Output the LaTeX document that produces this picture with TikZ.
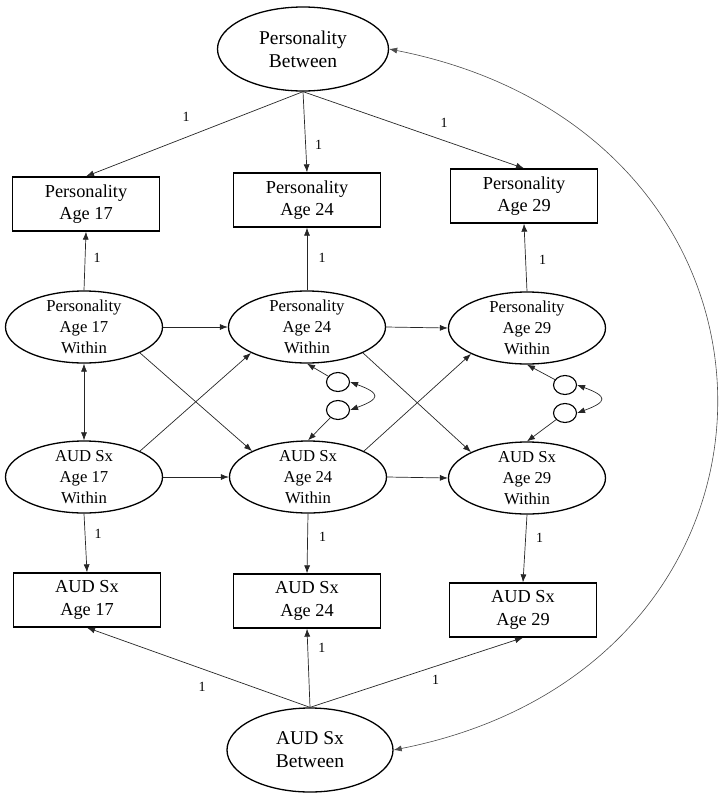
\documentclass[tikz,border=0pt]{standalone}
\usepackage{fontspec}
\setmainfont{Liberation Serif}
\usepackage{tikz}
\usetikzlibrary{positioning,shapes.geometric,arrows.meta}

\tikzset{
  latent/.style={draw,ellipse,line width=1.3pt,inner sep=0pt,minimum width=171pt,minimum height=84pt,align=center,font=\fontsize{19.5}{23}\selectfont},
  within/.style={draw,ellipse,line width=1.3pt,inner sep=0pt,minimum width=157pt,minimum height=72pt},
  wtext/.style={align=center,inner sep=0pt,font=\fontsize{16.7}{21}\selectfont},
  obs/.style={draw,rectangle,line width=1.3pt,inner sep=0pt,minimum width=147pt,minimum height=54pt,align=center,font=\fontsize{18.3}{22.5}\selectfont},
  resid/.style={draw,ellipse,line width=1.1pt,inner sep=0pt,minimum width=23pt,minimum height=19pt},
  reg/.style={->,line width=0.7pt,draw=black!85},
  cov/.style={<->,line width=0.7pt,draw=black!85},
  one/.style={inner sep=0pt,font=\fontsize{14}{16}\selectfont}
}

\begin{document}
\begin{tikzpicture}[x=1pt,y=-1pt,>={Latex[length=8pt,width=6pt]}]
\useasboundingbox (0,0) rectangle (724,801);

\node[latent] (pb) at (303,49) {Personality\\Between};
\node[latent,minimum width=166pt] (ab) at (310,750) {AUD Sx\\Between};

\node[obs] (p17) at (86,204) {Personality\\Age 17};
\node[obs] (p24) at (307,200) {Personality\\Age 24};
\node[obs] (p29) at (524,196) {Personality\\Age 29};

\node[obs] (a17) at (87,600) {AUD Sx\\Age 17};
\node[obs] (a24) at (307,601) {AUD Sx\\Age 24};
\node[obs] (a29) at (523,610) {AUD Sx\\Age 29};

\node[within] (p17w) at (84,327) {};
\node[within] (p24w) at (307,327) {};
\node[within] (p29w) at (527,328) {};
\node[within] (a17w) at (84,477) {};
\node[within] (a24w) at (308,477) {};
\node[within] (a29w) at (527,478) {};
\node[wtext] (p17wt) at (p17w) {Personality\\Age 17\\Within};
\node[wtext] (p24wt) at (p24w) {Personality\\Age 24\\Within};
\node[wtext] (p29wt) at (p29w) {Personality\\Age 29\\Within};
\node[wtext] (a17wt) at (a17w) {AUD Sx\\Age 17\\Within};
\node[wtext] (a24wt) at (a24w) {AUD Sx\\Age 24\\Within};
\node[wtext] (a29wt) at (a29w) {AUD Sx\\Age 29\\Within};

\node[resid] (e24p) at (338,382) {};
\node[resid] (e24a) at (338,410) {};
\node[resid] (e29p) at (565,385) {};
\node[resid] (e29a) at (565,413) {};

\draw[reg] (pb.south) -- node[one,pos=0.52,xshift=-4pt,yshift=19pt] (lpb17) {1} (p17.north);
\draw[reg] (pb.south) -- node[one,pos=0.66,xshift=13pt] (lpb24) {1} (p24.north);
\draw[reg] (pb.south) -- node[one,pos=0.62,xshift=4pt,yshift=16pt] (lpb29) {1} (p29.north);

\draw[reg] (p17w.north) -- node[one,pos=0.55,xshift=12pt] (lp17) {1} (p17.south);
\draw[reg] (p24w.north) -- node[one,pos=0.52,xshift=15pt] (lp24) {1} (p24.south);
\draw[reg] (p29w.north) -- node[one,pos=0.46,xshift=17pt] (lp29) {1} (p29.south);

\draw[reg] (a17w.south) -- node[one,pos=0.35,xshift=13pt] (la17) {1} (a17.north);
\draw[reg] (a24w.south) -- node[one,pos=0.39,xshift=15pt] (la24) {1} (a24.north);
\draw[reg] (a29w.south) -- node[one,pos=0.34,xshift=14pt] (la29) {1} (a29.north);

\draw[reg] (ab.north) -- node[one,pos=0.47,xshift=-3pt,yshift=-17pt] (lab17) {1} (a17.south);
\draw[reg] (ab.north) -- node[one,pos=0.75,xshift=14pt] (lab24) {1} (a24.south);
\draw[reg] (ab.north) -- node[one,pos=0.58,xshift=2pt,yshift=-13pt] (lab29) {1} (a29.south);

\draw[reg] (p17w.east) -- (p24w.west);
\draw[reg] (p24w.east) -- (p29w.west);
\draw[reg] (a17w.east) -- (a24w.west);
\draw[reg] (a24w.east) -- (a29w.west);

\draw[reg] (p17w.south east) -- (a24w.north west);
\draw[reg] (a17w.north east) -- (p24w.south west);
\draw[reg] (p24w.south east) -- (a29w.north west);
\draw[reg] (a24w.north east) -- (p29w.south west);

\draw[cov] (p17w.south) -- (a17w.north);

\draw[reg] (e24p) -- (p24w.south);
\draw[reg] (e24a) -- (a24w.north);
\draw[cov] (e24p.east) to[out=-20,in=20,looseness=3] (e24a.east);
\draw[reg] (e29p) -- (p29w.south);
\draw[reg] (e29a) -- (a29w.north);
\draw[cov] (e29p.east) to[out=-20,in=20,looseness=3] (e29a.east);

\draw[cov,line width=0.6pt,draw=black!70] (pb.east) .. controls (824,135) and (824,665) .. (ab.east);
\end{tikzpicture}
\end{document}
